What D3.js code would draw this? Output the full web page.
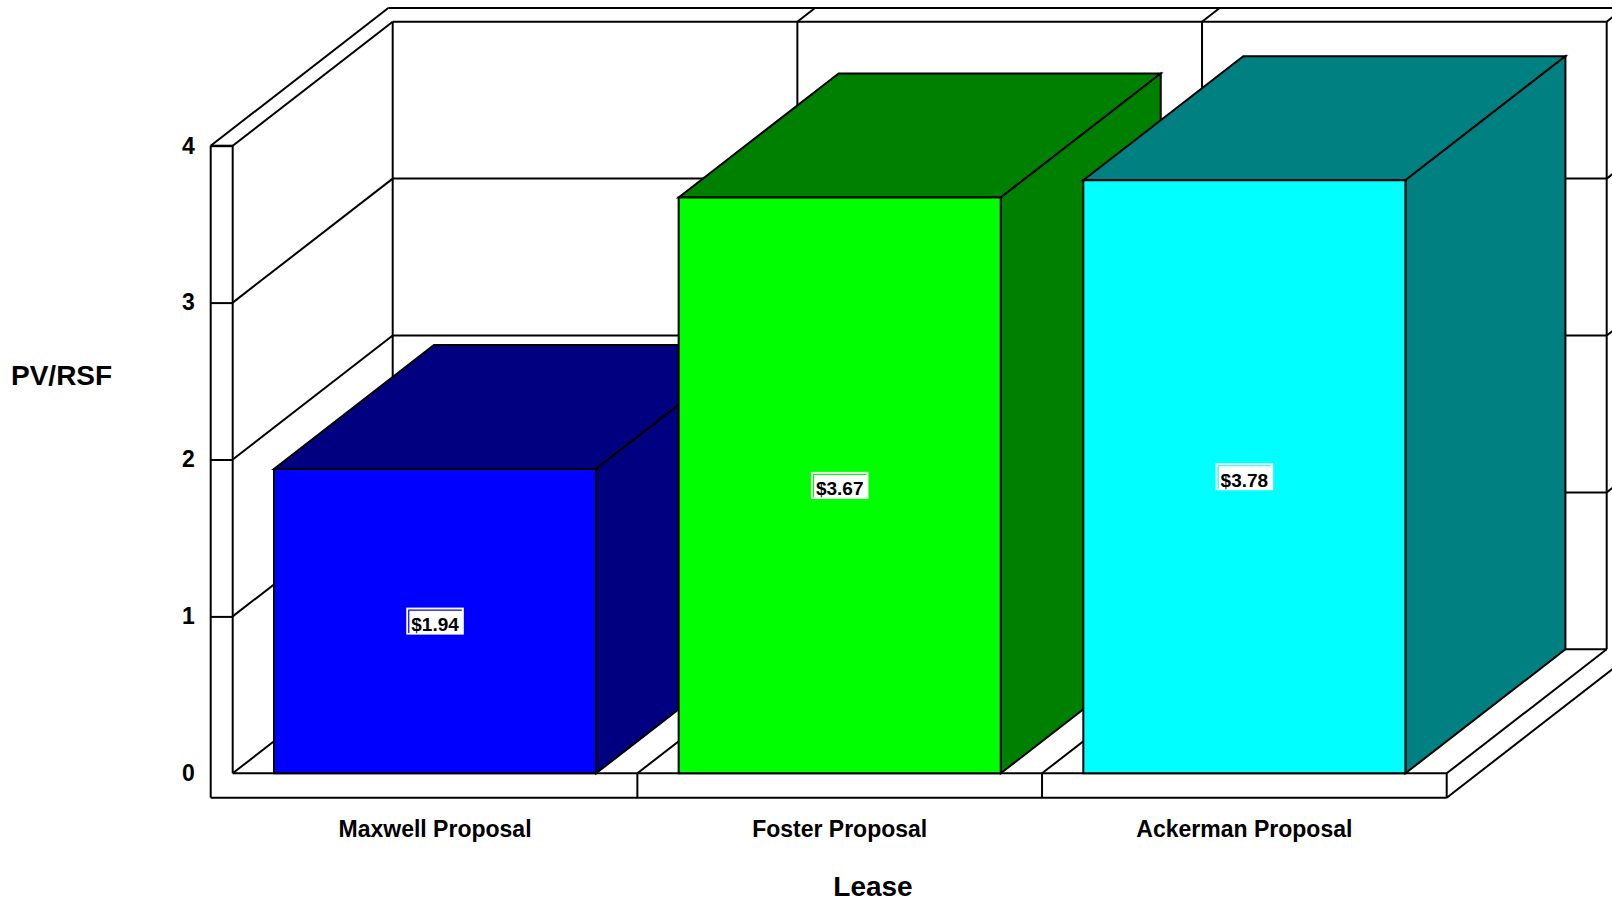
<!DOCTYPE html>
<html>
<head>
<meta charset="utf-8">
<script src="https://cdn.jsdelivr.net/npm/d3@7"></script>
<style>
  html, body { margin: 0; padding: 0; background: #fff; }
  svg { display: block; }
  text { font-family: "Liberation Sans", Arial, sans-serif; font-weight: bold; fill: #000; }
</style>
</head>
<body>
<svg id="chart" width="1612" height="902"></svg>
<script>
// Chart data
const categories = ["Maxwell Proposal", "Foster Proposal", "Ackerman Proposal"];
const values = [1.94, 3.67, 3.78];
const valueLabels = ["$1.94", "$3.67", "$3.78"];
const frontColors = ["#0000FF", "#00FF00", "#00FFFF"];
const shadeColors = ["#000080", "#008000", "#008080"];
const yTicks = [0, 1, 2, 3, 4];
const yTitle = "PV/RSF";
const xTitle = "Lease";

const svg = d3.select("#chart");

// Front plane of the plot box and its oblique depth projection
const y = d3.scaleLinear().domain([0, 4]).range([773.3, 145.7]);
const x = d3.scaleBand().domain(categories).range([232.7, 1446.7]).padding(0);
const DX = 160, DY = -124;          // offset from front (z=0) to back wall (z=1)
const wallX = 22;                   // left wall thickness
const floorH = 24.4;                // floor slab thickness
const backT = 0.11;                 // back wall thickness, in depth units
const barInset = x.bandwidth() * 0.102;

const P = (X, Y, z) => [X + z * DX, Y + z * DY];
const xL = x.range()[0], xR = x.range()[1];
const yTop = y(4), yBase = y(0);

const lineStyle = s => s.attr("stroke", "#000").attr("stroke-width", 2).attr("fill", "none");
const seg = (g, a, b) => lineStyle(g.append("line")
  .attr("x1", a[0]).attr("y1", a[1]).attr("x2", b[0]).attr("y2", b[1]));
const poly = (g, pts, fill) => g.append("polygon")
  .attr("points", pts.map(p => p.join(",")).join(" "))
  .attr("fill", fill).attr("stroke", "#000").attr("stroke-width", 2)
  .attr("stroke-linejoin", "miter");

const frame = svg.append("g");

// Back wall gridlines and edges
yTicks.forEach(v => seg(frame, P(xL, y(v), 1), P(xR, y(v), 1)));
const boundaries = [xL, ...categories.slice(1).map(c => x(c)), xR];
boundaries.forEach(X => seg(frame, P(X, yTop, 1), P(X, yBase, 1)));
// Back wall top thickness
seg(frame, P(xL - wallX, yTop, 1 + backT), P(xR, yTop, 1 + backT));
boundaries.slice(1).forEach(X => seg(frame, P(X, yTop, 1), P(X, yTop, 1 + backT)));
yTicks.slice(1, 4).forEach(v => seg(frame, P(xR, y(v), 1), P(xR, y(v), 1 + backT)));

// Left wall inner face gridlines and top face
yTicks.forEach(v => seg(frame, P(xL, y(v), 0), P(xL, y(v), 1)));
seg(frame, P(xL - wallX, yTop, 0), P(xL - wallX, yTop, 1 + backT));

// Floor top face dividers and right side
boundaries.slice(1).forEach(X => seg(frame, P(X, yBase, 0), P(X, yBase, 1)));
seg(frame, P(xR, yBase + floorH, 0), P(xR, yBase + floorH, 1 + backT));

// Floor front face
seg(frame, [xL, yBase], [xR, yBase]);
seg(frame, [xL - wallX, yBase + floorH], [xR, yBase + floorH]);
boundaries.slice(1).forEach(X => seg(frame, [X, yBase], [X, yBase + floorH]));

// Left wall front face
seg(frame, [xL - wallX, yTop], [xL - wallX, yBase + floorH]);
seg(frame, [xL, yTop], [xL, yBase]);
seg(frame, [xL - wallX, yTop], [xL, yTop]);

// Y axis: ticks span the wall thickness
const yAxis = d3.axisLeft(y).tickValues(yTicks).tickSize(wallX).tickPadding(16).tickFormat(d3.format("d"));
const gy = svg.append("g").attr("transform", `translate(${xL},0)`).call(yAxis);
gy.select(".domain").remove();
gy.selectAll(".tick line").attr("stroke", "#000").attr("stroke-width", 2)
  .filter(d => d === 0).remove();
gy.selectAll(".tick text").style("font-size", "23px").attr("font-family", null);

// Bars
const bars = svg.append("g");
categories.forEach((c, i) => {
  const x0 = x(c) + barInset, x1 = x(c) + x.bandwidth() - barInset;
  const yt = y(values[i]);
  const g = bars.append("g");
  poly(g, [P(x0, yt, 0), P(x1, yt, 0), P(x1, yt, 1), P(x0, yt, 1)], shadeColors[i]);
  poly(g, [P(x1, yt, 0), P(x1, yt, 1), P(x1, yBase, 1), P(x1, yBase, 0)], shadeColors[i]);
  poly(g, [[x0, yt], [x1, yt], [x1, yBase], [x0, yBase]], frontColors[i]);

  // Value label on the front face
  const cx = (x0 + x1) / 2, cy = (yt + yBase) / 2;
  const box = g.append("rect").attr("fill", "#fff");
  const inner = g.append("path").attr("fill", "none").attr("stroke", frontColors[i]).attr("stroke-width", 1.2);
  const t = g.append("text").attr("x", cx).attr("y", cy + 10)
    .attr("text-anchor", "middle").style("font-size", "19px").text(valueLabels[i]);
  const w = t.node().getComputedTextLength() + 10;
  const bx = cx - w / 2, by = cy - 13.5, bh = 27;
  box.attr("x", bx).attr("y", by).attr("width", w).attr("height", bh);
  inner.attr("d", `M${bx + 2.5},${by + bh - 1.5}V${by + 2.5}H${bx + w - 2}`);
});

// Category labels
svg.append("g").selectAll("text").data(categories).join("text")
  .attr("x", d => x(d) + x.bandwidth() / 2).attr("y", 837)
  .attr("text-anchor", "middle").style("font-size", "23px").text(d => d);

// Axis titles
svg.append("text").attr("x", 11).attr("y", 385).style("font-size", "28px").text(yTitle);
svg.append("text").attr("x", 873).attr("y", 896).attr("text-anchor", "middle")
  .style("font-size", "28px").text(xTitle);
</script>
</body>
</html>
